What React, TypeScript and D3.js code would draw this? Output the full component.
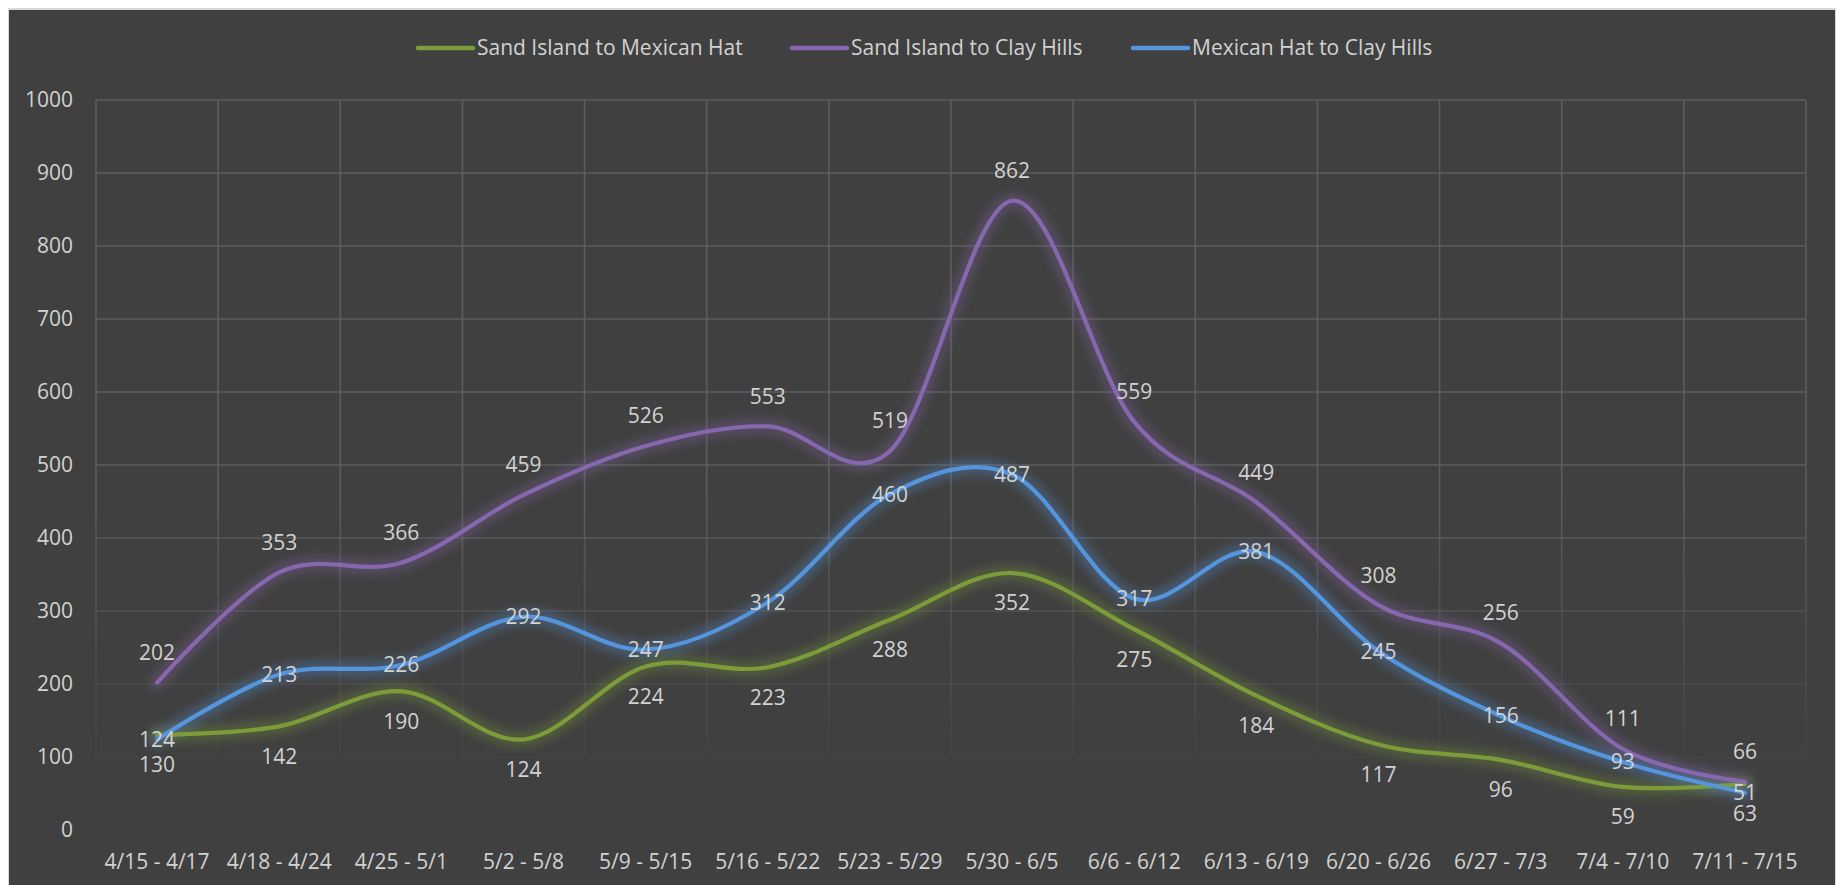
import React from "react";
import * as d3 from "d3";

const categories = ["4/15 - 4/17", "4/18 - 4/24", "4/25 - 5/1", "5/2 - 5/8", "5/9 - 5/15", "5/16 - 5/22", "5/23 - 5/29", "5/30 - 6/5", "6/6 - 6/12", "6/13 - 6/19", "6/20 - 6/26", "6/27 - 7/3", "7/4 - 7/10", "7/11 - 7/15"];
const sandToMexican = [130, 142, 190, 124, 224, 223, 288, 352, 275, 184, 117, 96, 59, 63];
const sandToClay = [202, 353, 366, 459, 526, 553, 519, 862, 559, 449, 308, 256, 111, 66];
const mexicanToClay = [124, 213, 226, 292, 247, 312, 460, 487, 317, 381, 245, 156, 93, 51];
const yTicks = [0, 100, 200, 300, 400, 500, 600, 700, 800, 900, 1000];

const seriesNames = ["Sand Island to Mexican Hat", "Sand Island to Clay Hills", "Mexican Hat to Clay Hills"];
const seriesColors = ["#7b9c39", "#8767ad", "#5595de"];
const seriesValues = [sandToMexican, sandToClay, mexicanToClay];
const labelOffsets = [30, -30, 0];
const legendX = [418, 792, 1133];

const W = 1845;
const H = 885;
const left = 96;
const right = 1806;
const top = 100;
const bottom = 830;
const FONT = "'Open Sans', sans-serif";
const TXT = "#d2d2d2";

export default function App() {
  const x = d3.scaleBand<string>().domain(categories).range([left, right]).padding(0);
  const bw = x.bandwidth();
  const cx = (i: number) => (x(categories[i]) as number) + bw / 2;
  const y = d3.scaleLinear().domain([0, 1000]).range([bottom, top]);
  const line = d3
    .line<number>()
    .x((_, i) => cx(i))
    .y((v) => y(v))
    .curve(d3.curveCatmullRom.alpha(0));

  const vLines = categories.map((c) => x(c) as number).concat([right]);

  return (
    <svg width={W} height={H} style={{ position: "absolute", left: 0, top: 0 }} fontFamily={FONT}>
      <defs>
        <linearGradient id="gridGrad" gradientUnits="userSpaceOnUse" x1="0" y1={top} x2="0" y2={bottom - 30}>
          <stop offset="0" stopColor="#5c5c5c" stopOpacity="1" />
          <stop offset="0.55" stopColor="#5c5c5c" stopOpacity="1" />
          <stop offset="1" stopColor="#5c5c5c" stopOpacity="0" />
        </linearGradient>
        <filter id="glow" x="-10%" y="-30%" width="120%" height="160%">
          <feGaussianBlur stdDeviation="5" />
        </filter>
      </defs>
      <rect x={0} y={0} width={W} height={H} fill="#ffffff" />
      <rect x={8} y={8} width={1828} height={H} fill="#d9d9d9" />
      <rect x={9} y={10} width={1826} height={H} fill="#404040" />

      {/* gridlines */}
      {yTicks.filter((t) => t > 0).map((t) => (
        <line key={"h" + t} x1={left} x2={right} y1={y(t)} y2={y(t)} stroke="url(#gridGrad)" strokeWidth={1.6} />
      ))}
      {vLines.map((vx, i) => (
        <rect key={"v" + i} x={vx - 0.8} y={top} width={1.6} height={y(100) - top} fill="url(#gridGrad)" />
      ))}

      {/* y axis labels */}
      {yTicks.map((t) => (
        <text key={"yl" + t} x={73} y={y(t)} dy="0.35em" textAnchor="end" fontSize={21} fill={TXT}>
          {t}
        </text>
      ))}

      {/* x axis labels */}
      {categories.map((c, i) => (
        <text key={"xl" + c} x={cx(i)} y={862} dy="0.35em" textAnchor="middle" fontSize={21} fill={TXT}>
          {c}
        </text>
      ))}

      {/* glows */}
      {seriesValues.map((vals, s) => (
        <path key={"g" + s} d={line(vals) as string} fill="none" stroke={seriesColors[s]} strokeWidth={16} strokeOpacity={0.3} strokeLinecap="round" strokeLinejoin="round" filter="url(#glow)" />
      ))}
      {/* lines */}
      {seriesValues.map((vals, s) => (
        <path key={"l" + s} d={line(vals) as string} fill="none" stroke={seriesColors[s]} strokeWidth={4.2} strokeLinecap="round" strokeLinejoin="round" />
      ))}

      {/* data labels */}
      {seriesValues.map((vals, s) =>
        vals.map((v, i) => (
          <text key={"d" + s + "-" + i} x={cx(i)} y={y(v) + labelOffsets[s]} dy="0.35em" textAnchor="middle" fontSize={21} fill={TXT}>
            {v}
          </text>
        ))
      )}

      {/* legend */}
      {seriesNames.map((n, s) => (
        <g key={"lg" + s}>
          <line x1={legendX[s]} x2={legendX[s] + 55} y1={48} y2={48} stroke={seriesColors[s]} strokeWidth={4.5} strokeLinecap="round" />
          <text x={legendX[s] + 59} y={48} dy="0.35em" fontSize={21} fill={TXT}>
            {n}
          </text>
        </g>
      ))}
    </svg>
  );
}
